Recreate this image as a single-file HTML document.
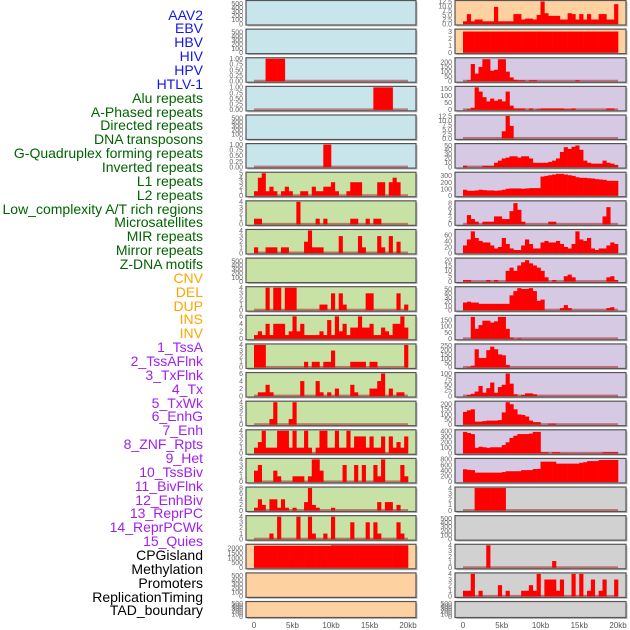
<!DOCTYPE html>
<html><head><meta charset="utf-8">
<style>
html,body{margin:0;padding:0;background:#fff;width:630px;height:630px;overflow:hidden}
#lbls{position:absolute;left:0;top:0;width:630px;height:630px}
.lb{position:absolute;right:427px;font:14px "Liberation Sans",sans-serif;white-space:nowrap;line-height:14px}
svg{position:absolute;left:0;top:0}
</style></head>
<body>
<div id="lbls"></div>
<svg id="chart" width="630" height="630"></svg>
<script>
const categories=["AAV2","EBV","HBV","HIV","HPV","HTLV-1","Alu repeats","A-Phased repeats","Directed repeats","DNA transposons","G-Quadruplex forming repeats","Inverted repeats","L1 repeats","L2 repeats","Low_complexity A/T rich regions","Microsatellites","MIR repeats","Mirror repeats","Z-DNA motifs","CNV","DEL","DUP","INS","INV","1_TssA","2_TssAFlnk","3_TxFlnk","4_Tx","5_TxWk","6_EnhG","7_Enh","8_ZNF_Rpts","9_Het","10_TssBiv","11_BivFlnk","12_EnhBiv","13_ReprPC","14_ReprPCWk","15_Quies","CPGisland","Methylation","Promoters","ReplicationTiming","TAD_boundary"];
const xTicks=[0,5000,10000,15000,20000];
const xTickLabels=["0","5kb","10kb","15kb","20kb"];
const T500=[0,100,200,300,400,500];
const T4=[0,1,2,3,4];
const T1=[0,0.25,0.5,0.75,1];
const T6=[0,2,4,6];
const col1Ymax=[550,550,1,1,550,1,5,4,4,550,4,6,4,6,4,4,4,8,4,2300,550,550];
const col1Ticks=[T500,T500,T1,T1,T500,T1,[0,1,2,3,4,5],T4,T4,T500,T4,T6,T4,T6,T4,T4,T4,[0,2,4,6,8],T4,[0,500,1000,1500,2000],T500,T500];
const col1Values=[
[0,0,0,0,0,0,0,0,0,0,0,0,0,0,0,0,0,0,0,0,0,0,0,0,0,0,0,0,0,0,0,0,0,0,0,0,0,0,0,0],
[0,0,0,0,0,0,0,0,0,0,0,0,0,0,0,0,0,0,0,0,0,0,0,0,0,0,0,0,0,0,0,0,0,0,0,0,0,0,0,0],
[0,0,0,1,1,1,1,1,0,0,0,0,0,0,0,0,0,0,0,0,0,0,0,0,0,0,0,0,0,0,0,0,0,0,0,0,0,0,0,0],
[0,0,0,0,0,0,0,0,0,0,0,0,0,0,0,0,0,0,0,0,0,0,0,0,0,0,0,0,0,0,0,1,1,1,1,1,0,0,0,0],
[0,0,0,0,0,0,0,0,0,0,0,0,0,0,0,0,0,0,0,0,0,0,0,0,0,0,0,0,0,0,0,0,0,0,0,0,0,0,0,0],
[0,0,0,0,0,0,0,0,0,0,0,0,0,0,0,0,0,0,1,1,0,0,0,0,0,0,0,0,0,0,0,0,0,0,0,0,0,0,0,0],
[1,4,5,1,2,1,0,1,2,1,0,0,1,1,0,2,1,1,2,2,3,1,0,0,1,3,3,3,0,0,0,0,3,3,0,3,4,3,0,0],
[1,1,0,0,0,0,0,0,0,0,0,4,0,0,0,0,1,0,1,0,0,0,0,0,0,1,1,0,0,1,0,1,1,0,0,0,0,0,0,0],
[1,0,0,1,1,1,0,1,1,0,0,0,0,2,4,1,1,1,0,0,0,0,3,0,0,0,0,3,1,0,0,0,3,1,0,3,0,2,0,0],
[0,0,0,0,0,0,0,0,0,0,0,0,0,0,0,0,0,0,0,0,0,0,0,0,0,0,0,0,0,0,0,0,0,0,0,0,0,0,0,0],
[0,0,0,4,0,4,4,0,4,4,4,0,0,0,0,0,0,1,1,0,3,0,3,1,0,0,0,0,0,3,3,0,0,0,0,0,0,3,0,1],
[1,2,1,4,1,4,4,4,1,2,6,2,4,1,1,1,1,2,1,5,1,6,2,4,1,3,3,6,3,3,4,1,1,3,2,1,4,4,6,3],
[4,4,4,0,0,0,0,0,0,0,0,0,0,1,0,1,1,0,1,1,3,0,0,0,0,1,1,1,1,0,1,1,0,0,0,0,0,0,0,4],
[0,1,1,3,1,0,0,0,0,0,0,0,4,0,0,0,4,1,0,1,0,2,0,0,0,3,1,0,0,0,2,2,4,6,0,2,0,1,1,0],
[0,0,0,0,1,4,0,0,0,1,4,0,0,0,0,0,0,0,0,0,0,0,0,0,0,0,0,0,0,0,0,0,0,0,0,0,0,0,0,0],
[1,2,4,1,1,1,4,4,4,1,4,1,1,4,1,0,1,4,4,1,1,4,1,1,4,1,3,3,3,1,3,1,1,3,0,3,1,2,1,3],
[2,3,0,0,0,2,1,0,0,0,1,1,1,0,1,4,4,2,0,0,0,0,0,3,0,0,3,0,3,0,0,3,1,4,0,0,0,0,3,1],
[1,4,2,0,4,4,1,4,1,0,1,0,0,3,8,2,1,0,0,0,1,0,0,0,0,0,0,0,0,0,0,0,3,0,3,3,0,2,0,0],
[0,0,0,0,1,0,4,0,0,0,0,4,0,0,4,1,0,0,1,0,4,0,0,0,0,3,0,0,0,3,0,3,1,0,0,0,0,3,1,0],
[2250,2250,2250,2250,2250,2250,2250,2250,2250,2250,2250,2250,2250,2250,2250,2250,2250,2250,2250,2250,2300,2300,2300,2300,2300,2300,2300,2300,2300,2300,2300,2300,2300,2300,2300,2300,2300,2300,2300,2300],
[0,0,0,0,0,0,0,0,0,0,0,0,0,0,0,0,0,0,0,0,0,0,0,0,0,0,0,0,0,0,0,0,0,0,0,0,0,0,0,0],
[0,0,0,0,0,0,0,0,0,0,0,0,0,0,0,0,0,0,0,0,0,0,0,0,0,0,0,0,0,0,0,0,0,0,0,0,0,0,0,0]
];
const col2Ymax=[12.5,3.2,235,160,12.5,52,340,8.5,75,21,53,180,260,100,220,410,800,4,550,4,4,550];
const col2Ticks=[[0,2.5,5,7.5,10,12.5],[0,1,2,3],[0,50,100,150,200],[0,50,100,150],[0,2.5,5,7.5,10,12.5],[0,10,20,30,40,50],[0,100,200,300],[0,2,4,6,8],[0,20,40,60],[0,5,10,15,20],[0,10,20,30,40,50],[0,50,100,150],[0,50,100,150,200,250],[0,25,50,75,100],[0,50,100,150,200],[0,100,200,300,400],[0,200,400,600,800],T4,T500,T4,T4,T500];
const col2Values=[
[1.5,5.5,1.5,2.5,2.5,1.5,1.5,1.5,9.5,1.5,1.5,1.5,1.5,5.5,5.5,2.5,3,3,2.5,5,12.5,6,4.5,4.5,4.5,2.5,2.5,6,5.5,2.5,5.5,2.5,5.5,2.5,2.5,5.5,5.5,2.5,2.5,11],
[3,3,3,3,3,3,3,3,3,3,3,3,3,3,3,3,3,3,3,3,3,3,3,3,3,3,3,3,3,3,3,3,3,3,3,3,3,3,3,3],
[0,10,180,80,150,230,230,110,120,230,230,100,40,15,10,10,0,10,10,0,0,0,0,0,0,0,0,0,0,10,0,0,0,0,0,0,0,0,0,0],
[0,5,15,160,130,90,60,80,65,75,60,130,30,10,10,10,0,10,0,5,10,10,10,10,10,10,5,5,10,0,0,0,0,0,0,0,0,10,10,0],
[0,0,0,0,0,0,0,0,0,0,4,12.5,7,0,0,0,0,0,0,0,0,0,0,0,0,0,0,0,0,0,0,0,0,0,0,0,0,0,0,0],
[3,0,0,0,0,3,3,3,10,15,20,22,25,25,22,25,25,20,10,10,10,10,12,15,20,35,46,42,47,50,40,15,10,8,8,8,15,10,8,5],
[90,75,75,80,90,85,80,80,75,80,90,105,110,110,110,105,110,115,115,115,290,300,310,320,330,330,320,310,300,280,270,270,265,260,250,245,240,225,225,225],
[0,3.5,2,1,0,1,1,1,3,3,2,2,5,8,5.5,1,0,0,0,0,0,0,1,1,0,0,0,0,0,0,0,0,0,0,0,0,3,6.5,0,0],
[25,45,72,50,40,35,35,25,15,20,50,30,15,10,10,25,45,30,15,15,35,40,35,35,40,30,20,15,30,72,45,40,50,15,10,15,15,25,35,30],
[1.5,1.5,0,0,0,0,1.5,0,1.5,0,0,10,13,10,15,18,20,17,15,13,10,4,0,1.5,0,0,5,6.5,4,0,0,0,0,0,0,0,0,4,5,1.5],
[18,20,18,18,15,15,15,15,15,15,15,15,35,45,52,50,50,52,45,22,25,0,0,0,0,5,12,5,0,0,0,0,0,0,0,0,0,5,7,0],
[0,0,175,80,110,145,145,130,140,175,175,80,10,0,5,0,0,0,0,0,0,0,0,0,0,0,0,0,0,0,0,0,0,0,0,0,0,0,0,0],
[0,5,20,210,110,110,200,240,210,150,140,30,0,0,0,0,0,0,0,0,0,0,0,0,0,0,0,0,0,0,0,0,0,0,0,0,0,0,0,0],
[0,5,10,20,45,15,35,60,15,40,50,100,55,8,0,5,12,12,8,0,0,0,0,0,0,0,0,0,0,0,0,0,0,0,0,0,0,0,0,0],
[125,140,150,30,30,35,40,40,40,45,120,220,200,150,100,95,80,40,25,25,0,0,10,10,0,0,0,0,0,0,0,0,0,0,0,0,0,0,0,0],
[390,370,350,100,120,110,100,110,110,110,150,200,280,320,350,350,350,360,390,390,20,20,0,20,20,3,3,3,3,3,3,3,3,3,3,3,20,20,20,20],
[450,430,420,330,330,330,330,330,330,330,350,380,380,380,380,420,420,420,460,460,720,720,720,720,650,650,650,650,650,650,680,700,740,740,740,780,780,780,780,780],
[0,0,0,4,4,4,4,4,4,4,4,0,0,0,0,0,0,0,0,0,0,0,0,0,0,0,0,0,0,0,0,0,0,0,0,0,0,0,0,0],
[0,0,0,0,0,0,0,0,0,0,0,0,0,0,0,0,0,0,0,0,0,0,0,0,0,0,0,0,0,0,0,0,0,0,0,0,0,0,0,0],
[0,0,0,0,0,0,4,0,0,0,0,0,0,0,0,0,0,0,0,0,0,0,0,1.2,0,0,0,0,0,0,0,0,0,0,0,0,0,0,0,0],
[1,1,4,0,1,0,0,0,0,2,0,1,0,0,0,1,1,2,1,4,0,3,3,3,1,3,0,0,4,0,4,0,1,3,0,1,3,0,0,3],
[0,0,0,0,0,0,0,0,0,0,0,0,0,0,0,0,0,0,0,0,0,0,0,0,0,0,0,0,0,0,0,0,0,0,0,0,0,0,0,0]
];
const BIN=500;
const NS="http://www.w3.org/2000/svg";
const svg=document.getElementById('chart');
const labelColors=(i)=>i<6?"#1515ee":i<19?"#006400":i<24?"#ffa500":i<39?"#a020f0":"#000";
const lbls=document.getElementById('lbls');
categories.forEach((c,i)=>{
  const d=document.createElement('div');
  d.className='lb';
  
  
  d.style.top=(15+13.86*i-7.5)+'px';
  d.style.color=labelColors(i);
  d.textContent=c;
  lbls.appendChild(d);
});
function mk(tag,attrs,parent){const e=document.createElementNS(NS,tag);for(const k in attrs)e.setAttribute(k,attrs[k]);parent.appendChild(e);return e;}
function fmt(v,ticks){if(ticks.some(t=>t%1!==0)){const dec=ticks.some(t=>Math.round(t*100)%10!==0)?2:1;return v.toFixed(dec);}return String(v);}
const cols=[
 {left:246,right:416,x0:254,x1:408,values:col1Values,ymax:col1Ymax,ticks:col1Ticks,bg:i=>i<6?"#c9e5ec":i<19?"#c8e2a6":"#fed1a0"},
 {left:455,right:626,x0:463,x1:618,values:col2Values,ymax:col2Ymax,ticks:col2Ticks,bg:i=>i<2?"#fed1a0":i<17?"#d6c9e3":"#d1d1d1"}
];
cols.forEach((col,ci)=>{
  const xs=v=>col.x0+(v/20000)*(col.x1-col.x0);
  for(let r=0;r<22;r++){
    const top=28.62*r+0.5, h=r===21?16:24.5, bot=top+h;
    const g=mk('g',{},svg);
    
    
    const sh=mk('rect',{x:col.left+1.5,y:top+1.5,width:col.right-col.left,height:h,fill:'#bbb'},g);
    
    
    const bg=mk('rect',{x:col.left,y:top,width:col.right-col.left,height:h,fill:col.bg(r)},g);
    
    
    const vals=col.values[r], ym=col.ymax[r];
    const ys=v=>bot-1-(v/ym)*(h-2);
    const hasData=vals.some(v=>v>0);
    if(hasData){
      const bl=mk('rect',{x:xs(0),y:bot-2.5,width:xs(20000)-xs(0),height:2,fill:'rgba(170,20,20,0.5)'},g);
      
      
    }
    vals.forEach((v,b)=>{
      if(v<=0)return;
      const xa=xs(b*BIN), xb=xs((b+1)*BIN);
      const y=Math.max(top+1,ys(v));
      const bar=mk('rect',{x:xa,y:y,width:xb-xa+0.3,height:bot-1-y,fill:'#ff0000'},g);
      
      
    });
    mk('rect',{x:col.left,y:top,width:col.right-col.left,height:h,fill:'none',stroke:'#555','stroke-width':1.2},g);
    col.ticks[r].forEach(t=>{
      const tx=mk('text',{x:col.left-3,y:ys(t)+2.3,'text-anchor':'end','font-size':'7px','font-family':'Liberation Sans, sans-serif',fill:'#666'},g);
      
      
      tx.textContent=fmt(t,col.ticks[r]);
    });
  }
  xTicks.forEach((t,k)=>{
    const tx=mk('text',{x:xs(t),y:628,'text-anchor':'middle','font-size':'8px','font-family':'Liberation Sans, sans-serif',fill:'#555'},svg);
    
    
    tx.textContent=xTickLabels[k];
  });
});
</script>
</body></html>
